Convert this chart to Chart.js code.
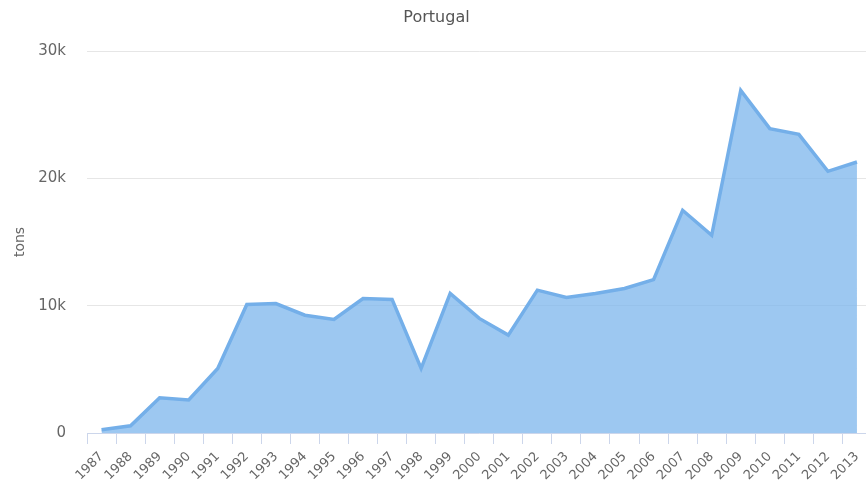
<!DOCTYPE html>
<html>
<head>
<meta charset="utf-8">
<script src="https://cdn.jsdelivr.net/npm/chart.js@4/dist/chart.umd.min.js"></script>
<style>
  html, body { margin: 0; padding: 0; background: #fff; overflow: hidden; width: 866px; height: 484px; }
  #wrap { width: 873px; height: 484px; }
</style>
</head>
<body>
<div id="wrap"><canvas id="c" width="873" height="484"></canvas></div>
<script>
const years = ['1987','1988','1989','1990','1991','1992','1993','1994','1995','1996','1997','1998','1999','2000','2001','2002','2003','2004','2005','2006','2007','2008','2009','2010','2011','2012','2013'];
const tons = [250, 570, 2770, 2590, 5070, 10090, 10170, 9250, 8920, 10560, 10490, 5070, 10960, 9000, 7690, 11220, 10640, 10960, 11350, 12050, 17490, 15530, 26900, 23900, 23450, 20550, 21280];
const yTicks = [0, 10000, 20000, 30000];
const titleText = 'Portugal';
const yTitle = 'tons';

const FONT = "'DejaVu Sans', sans-serif";

new Chart(document.getElementById('c'), {
  type: 'line',
  data: {
    labels: years,
    datasets: [{
      label: 'Portugal',
      data: tons,
      borderColor: '#74afe9',
      backgroundColor: 'rgba(124,181,236,0.75)',
      borderWidth: 3.5,
      fill: 'origin',
      tension: 0,
      pointRadius: 0,
      pointHoverRadius: 0,
      borderJoinStyle: 'miter'
    }]
  },
  options: {
    responsive: false,
    animation: false,
    devicePixelRatio: 1,
    layout: { padding: 0 },
    plugins: {
      legend: { display: false },
      tooltip: { enabled: false },
      title: {
        display: true,
        text: titleText,
        color: '#555',
        font: { family: FONT, size: 16, weight: 'normal' },
        padding: { top: 8, bottom: 23.8 }
      }
    },
    scales: {
      x: {
        offset: true,
        grid: {
          offset: true,
          drawOnChartArea: false,
          drawTicks: true,
          tickLength: 11,
          color: '#ccd6eb'
        },
        border: { display: true, color: '#ccd6eb', width: 1 },
        ticks: {
          autoSkip: false,
          minRotation: 45,
          maxRotation: 45,
          padding: 5,
          color: '#666',
          font: { family: FONT, size: 13 }
        },
        afterFit: s => { s.height = 51; }
      },
      y: {
        min: 0,
        max: 30000,
        afterBuildTicks: s => { s.ticks = yTicks.map(v => ({ value: v })); },
        grid: { color: '#e6e6e6', drawTicks: false, lineWidth: 1 },
        border: { display: false },
        ticks: {
          padding: 21,
          color: '#666',
          font: { family: FONT, size: 15 },
          callback: v => v === 0 ? '0' : (v / 1000) + 'k'
        },
        title: {
          display: true,
          text: yTitle,
          color: '#666',
          font: { family: FONT, size: 14 },
          padding: { top: 12, bottom: 0 }
        },
        afterFit: s => { s.width = 87; }
      }
    }
  }
});
</script>
</body>
</html>
